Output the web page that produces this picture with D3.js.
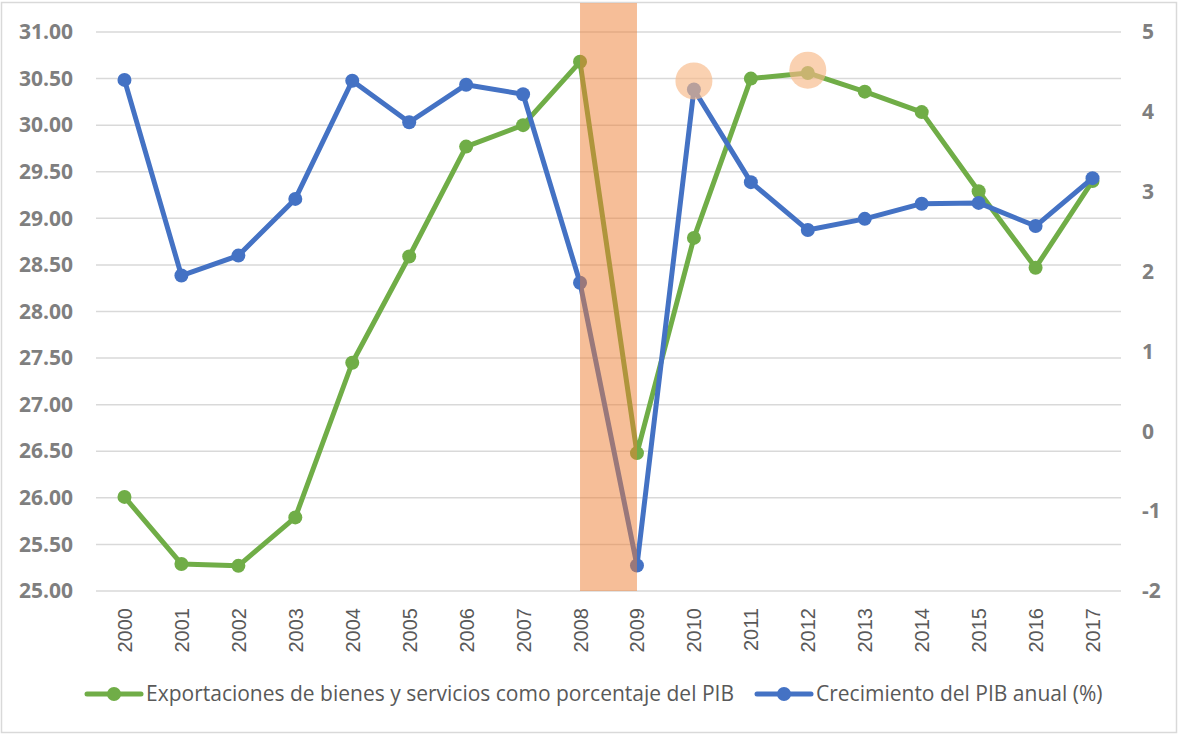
<!DOCTYPE html>
<html>
<head>
<meta charset="utf-8">
<script src="https://cdn.jsdelivr.net/npm/d3@7"></script>
<style>
  body { margin: 0; background: #fff; }
  svg { display: block; }
</style>
</head>
<body>
<script>
// data
var years = ["2000","2001","2002","2003","2004","2005","2006","2007","2008",
             "2009","2010","2011","2012","2013","2014","2015","2016","2017"];
var exportaciones = [26.01, 25.29, 25.27, 25.79, 27.45, 28.59, 29.77, 30.00, 30.68,
                     26.48, 28.79, 30.50, 30.56, 30.36, 30.14, 29.29, 28.47, 29.40];
var crecimiento = [4.40, 1.95, 2.20, 2.91, 4.39, 3.87, 4.34, 4.22, 1.86,
                   -1.68, 4.28, 3.12, 2.52, 2.66, 2.85, 2.86, 2.57, 3.17];
var leftTicks = [25, 25.5, 26, 26.5, 27, 27.5, 28, 28.5, 29, 29.5, 30, 30.5, 31];
var rightTicks = [-2, -1, 0, 1, 2, 3, 4, 5];
var seriesNames = ["Exportaciones de bienes y servicios como porcentaje del PIB",
                   "Crecimiento del PIB anual (%)"];
var crisisSpan = ["2008", "2009"];
// highlight circles, placed on the left axis scale
var highlightYears = ["2010", "2012"];
var highlightValues = [30.475, 30.59];

var W = 1178, H = 734;
var margin = {top: 32, right: 57, bottom: 143, left: 96};
var width = W - margin.left - margin.right,
    height = H - margin.top - margin.bottom;

var green = "#70AD47", blue = "#4472C4", orange = "#ED7D31";

var svg = d3.select("body").append("svg")
    .attr("width", W)
    .attr("height", H);

// chart border
svg.append("rect")
    .attr("x", 1.5).attr("y", 2.5)
    .attr("width", W - 3).attr("height", H - 4)
    .attr("fill", "none")
    .attr("stroke", "#D9D9D9")
    .attr("stroke-width", 1.5);

var g = svg.append("g")
    .attr("transform", "translate(" + margin.left + "," + margin.top + ")");

var x = d3.scalePoint()
    .domain(years)
    .range([0, width])
    .padding(0.5);

var yL = d3.scaleLinear().domain([25, 31]).range([height, 0]);
var yR = d3.scaleLinear().domain([-2, 5]).range([height, 0]);

// gridlines
g.append("g")
    .selectAll("line")
    .data(leftTicks)
  .enter().append("line")
    .attr("x1", 0).attr("x2", width)
    .attr("y1", function(d) { return yL(d); })
    .attr("y2", function(d) { return yL(d); })
    .attr("stroke", "#D9D9D9")
    .attr("stroke-width", 1.5);

// left axis
var axL = g.append("g")
    .call(d3.axisLeft(yL).tickValues(leftTicks).tickFormat(d3.format(".2f")).tickSize(0).tickPadding(23));
axL.select(".domain").remove();
axL.selectAll("text")
    .attr("fill", "#7F7F7F")
    .style("font-family", "'Open Sans', sans-serif")
    .style("font-weight", "bold")
    .style("font-size", "21px");

// right axis
var axR = g.append("g")
    .attr("transform", "translate(" + width + ",0)")
    .call(d3.axisRight(yR).tickValues(rightTicks).tickFormat(function(d) { return String(d); }).tickSize(0).tickPadding(21));
axR.select(".domain").remove();
axR.selectAll("text")
    .attr("fill", "#7F7F7F")
    .style("font-family", "'Open Sans', sans-serif")
    .style("font-weight", "bold")
    .style("font-size", "21px");

// bottom axis, rotated year labels
var axB = g.append("g")
    .attr("transform", "translate(0," + height + ")")
    .call(d3.axisBottom(x).tickSize(0));
axB.select(".domain").remove();
axB.selectAll("text")
    .attr("transform", "rotate(-90)")
    .attr("x", -17)
    .attr("y", 0)
    .attr("dy", "0.35em")
    .attr("text-anchor", "end")
    .attr("fill", "#595959")
    .style("font-family", "'Liberation Sans', Arial, sans-serif")
    .style("font-size", "20px");

// lines
var lineL = d3.line()
    .x(function(d, i) { return x(years[i]); })
    .y(function(d) { return yL(d); });
var lineR = d3.line()
    .x(function(d, i) { return x(years[i]); })
    .y(function(d) { return yR(d); });

g.append("path")
    .datum(exportaciones)
    .attr("d", lineL)
    .attr("fill", "none")
    .attr("stroke", green)
    .attr("stroke-width", 5)
    .attr("stroke-linejoin", "round");
g.selectAll(".dotG")
    .data(exportaciones)
  .enter().append("circle")
    .attr("class", "dotG")
    .attr("cx", function(d, i) { return x(years[i]); })
    .attr("cy", function(d) { return yL(d); })
    .attr("r", 7)
    .attr("fill", green);

g.append("path")
    .datum(crecimiento)
    .attr("d", lineR)
    .attr("fill", "none")
    .attr("stroke", blue)
    .attr("stroke-width", 5)
    .attr("stroke-linejoin", "round");
g.selectAll(".dotB")
    .data(crecimiento)
  .enter().append("circle")
    .attr("class", "dotB")
    .attr("cx", function(d, i) { return x(years[i]); })
    .attr("cy", function(d) { return yR(d); })
    .attr("r", 7)
    .attr("fill", blue);

// crisis band drawn over the lines
g.append("rect")
    .attr("x", x(crisisSpan[0]))
    .attr("y", -margin.top + 3)
    .attr("width", x(crisisSpan[1]) - x(crisisSpan[0]))
    .attr("height", height + margin.top - 3)
    .attr("fill", orange)
    .attr("fill-opacity", 0.5);

// highlight circles
g.selectAll(".hl")
    .data(highlightValues)
  .enter().append("circle")
    .attr("class", "hl")
    .attr("cx", function(d, i) { return x(highlightYears[i]); })
    .attr("cy", function(d) { return yL(d); })
    .attr("r", 18.5)
    .attr("fill", "#F7B987")
    .attr("fill-opacity", 0.65);

// legend
var legend = svg.append("g")
    .attr("transform", "translate(0,694)");
var legendX = [87, 757];
var colors = [green, blue];
seriesNames.forEach(function(name, i) {
    var lg = legend.append("g").attr("transform", "translate(" + legendX[i] + ",0)");
    lg.append("line")
        .attr("x1", 0).attr("x2", 54)
        .attr("stroke", colors[i])
        .attr("stroke-width", 5)
        .attr("stroke-linecap", "round");
    lg.append("circle")
        .attr("cx", 27).attr("r", 7)
        .attr("fill", colors[i]);
    lg.append("text")
        .attr("x", 59)
        .attr("dy", "0.35em")
        .attr("fill", "#595959")
        .style("font-family", "'Open Sans', sans-serif")
        .style("font-size", "21px")
        .text(name);
});
</script>
</body>
</html>
